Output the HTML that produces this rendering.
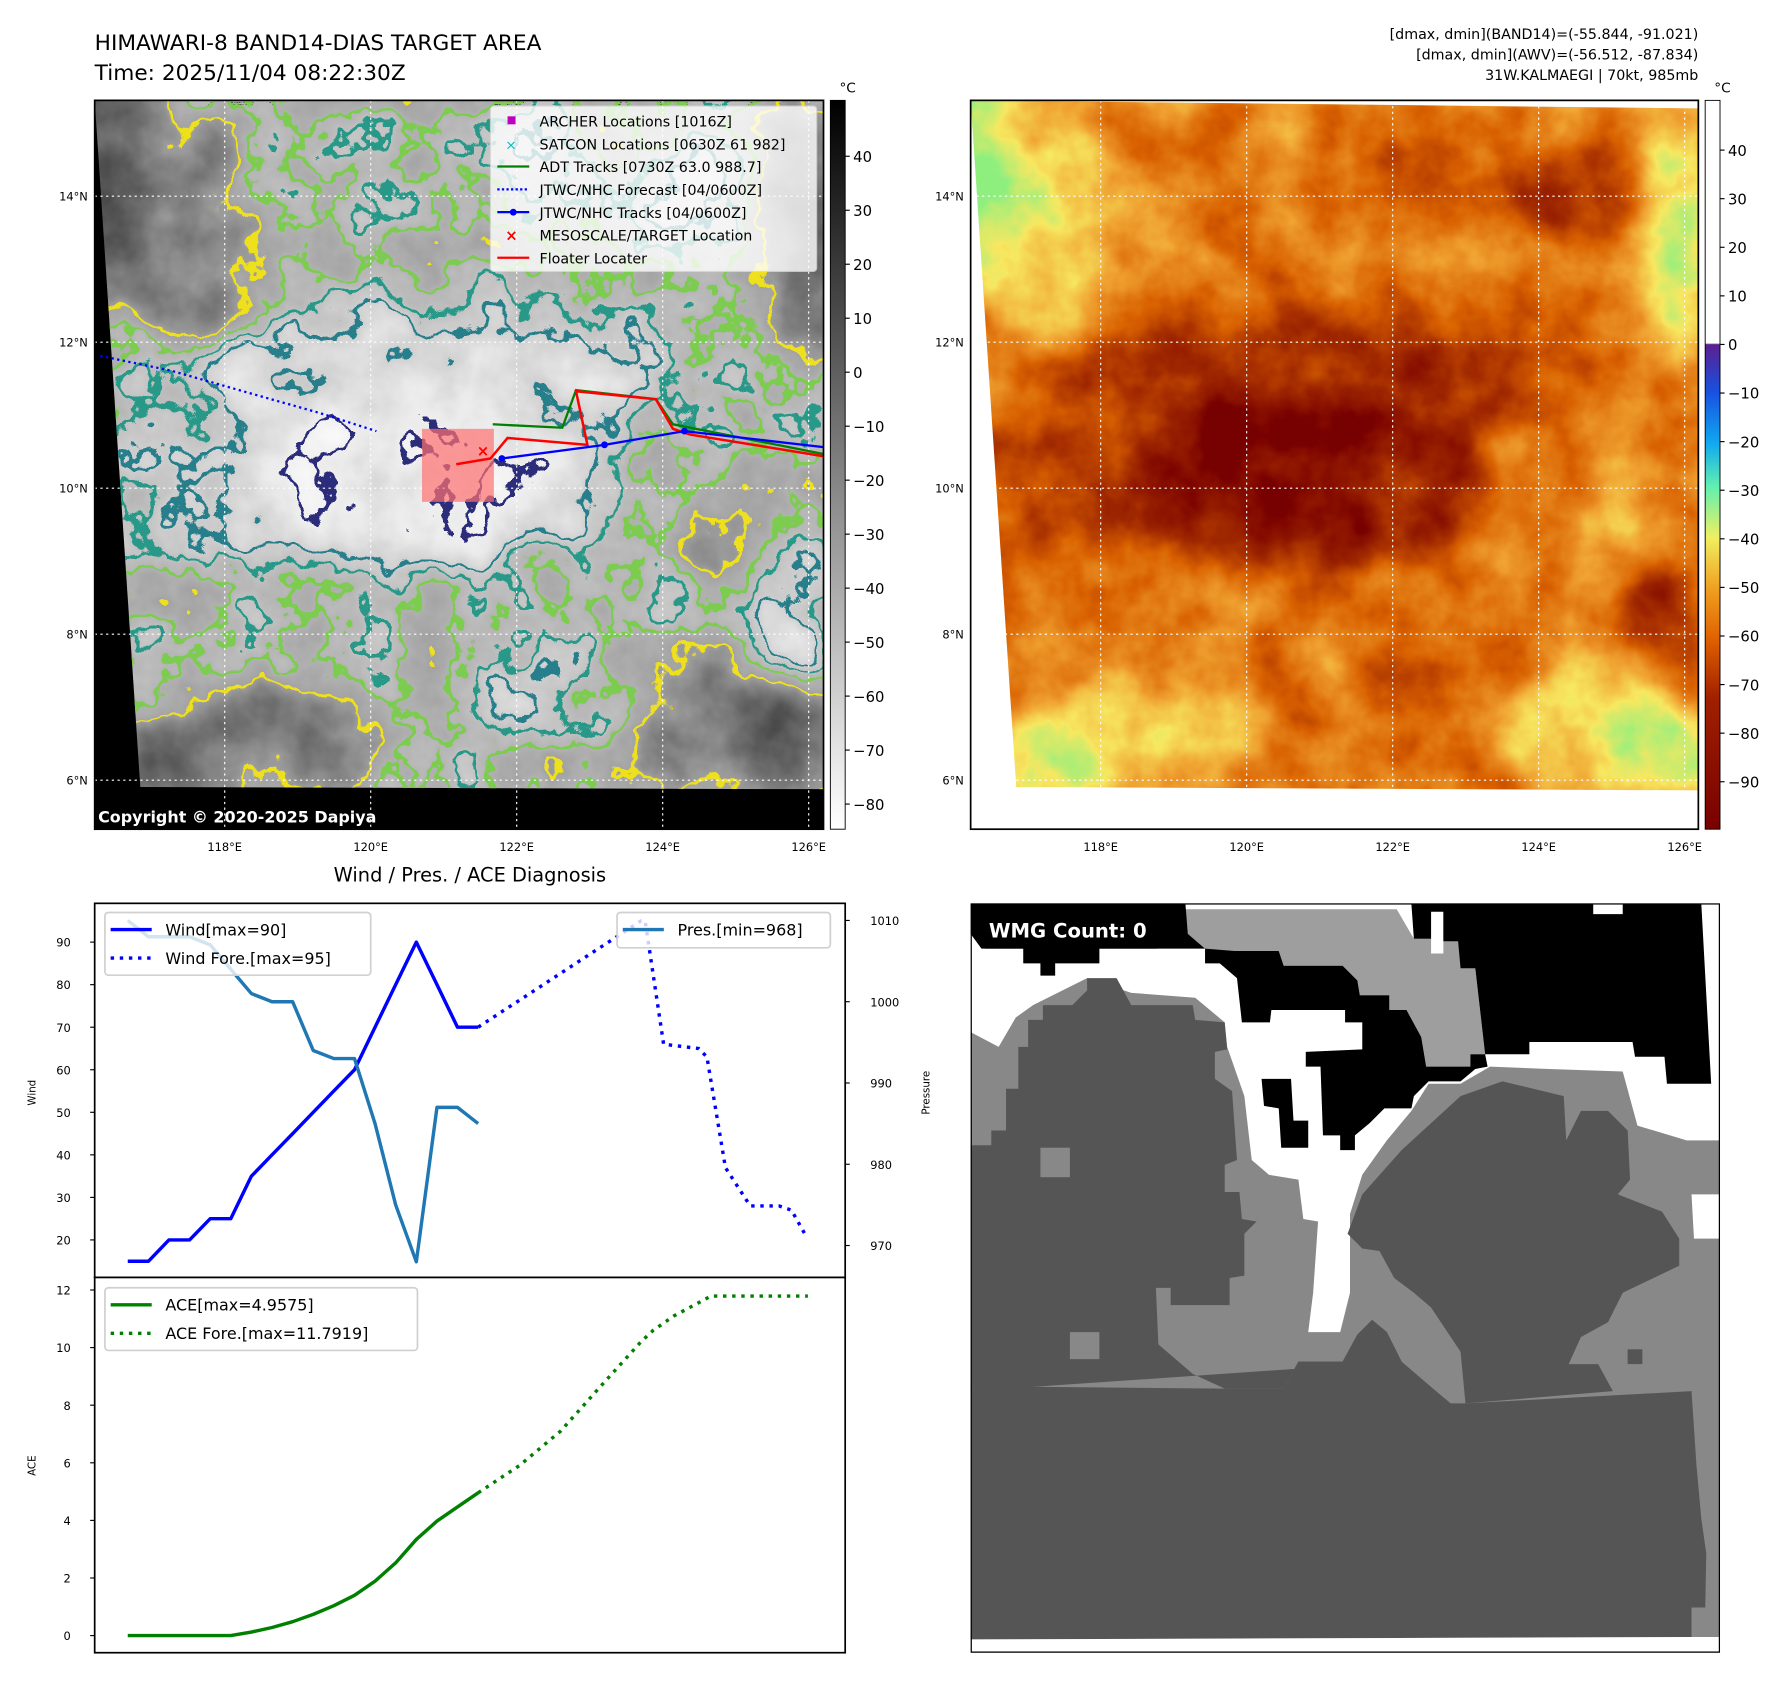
<!DOCTYPE html>
<html><head><meta charset="utf-8">
<style>
html,body{margin:0;padding:0;background:#fff;}
svg{display:block;font-family:"DejaVu Sans","Liberation Sans",sans-serif;}
</style></head>
<body>
<svg id="root" width="1788" height="1690" viewBox="0 0 1567.6 1481.7" xmlns="http://www.w3.org/2000/svg">
<defs>
  <g id="struct">
    <rect x="60" y="70" width="690" height="680" fill="rgb(150,150,150)"/>
    <ellipse cx="380" cy="330" rx="220" ry="60" fill="rgb(205,205,205)"/>
    <ellipse cx="200" cy="420" rx="130" ry="55" fill="rgb(195,195,195)"/>
    <ellipse cx="370" cy="420" rx="150" ry="75" fill="rgb(240,240,240)"/>
    <ellipse cx="480" cy="420" rx="50" ry="60" fill="rgb(225,225,225)"/>
    <ellipse cx="612" cy="170" rx="50" ry="40" fill="rgb(215,215,215)"/>
    <ellipse cx="472" cy="130" rx="40" ry="30" fill="rgb(204,204,204)"/>
    <ellipse cx="692" cy="550" rx="30" ry="70" fill="rgb(215,215,215)"/>
    <ellipse cx="462" cy="600" rx="40" ry="40" fill="rgb(190,190,190)"/>
    <ellipse cx="160" cy="200" rx="70" ry="100" fill="rgb(95,95,95)"/>
    <ellipse cx="95" cy="160" rx="35" ry="100" fill="rgb(40,40,40)"/>
    <ellipse cx="230" cy="650" rx="110" ry="50" fill="rgb(90,90,90)"/>
    <ellipse cx="150" cy="670" rx="50" ry="40" fill="rgb(50,50,50)"/>
    <ellipse cx="640" cy="640" rx="90" ry="60" fill="rgb(85,85,85)"/>
    <ellipse cx="690" cy="660" rx="50" ry="40" fill="rgb(50,50,50)"/>
    <ellipse cx="700" cy="200" rx="35" ry="110" fill="rgb(60,60,60)"/>
    <ellipse cx="640" cy="460" rx="40" ry="60" fill="rgb(115,115,115)"/>
  </g>
  <filter id="fL" filterUnits="userSpaceOnUse" x="83" y="88" width="640" height="640" color-interpolation-filters="sRGB">
    <feGaussianBlur in="SourceGraphic" stdDeviation="18" result="b"/>
    <feTurbulence type="fractalNoise" baseFrequency="0.02" numOctaves="4" seed="3" result="n"/>
    <feColorMatrix in="n" type="matrix" values="1 0 0 0 0 1 0 0 0 0 1 0 0 0 0 0 0 0 0 1" result="ng"/>
    <feComposite in="b" in2="ng" operator="arithmetic" k1="0" k2="0.9" k3="0.35" k4="-0.2" result="m"/>
    <feComponentTransfer in="m">
      <feFuncR type="table" tableValues="0.2 0.42 0.64 0.78 0.92 1"/>
      <feFuncG type="table" tableValues="0.2 0.42 0.64 0.78 0.92 1"/>
      <feFuncB type="table" tableValues="0.2 0.42 0.64 0.78 0.92 1"/>
      <feFuncA type="linear" slope="0" intercept="1"/>
    </feComponentTransfer>
  </filter>
  <filter id="fC" filterUnits="userSpaceOnUse" x="83" y="88" width="640" height="640" color-interpolation-filters="sRGB">
    <feGaussianBlur in="SourceGraphic" stdDeviation="18" result="b"/>
    <feTurbulence type="fractalNoise" baseFrequency="0.02" numOctaves="4" seed="3" result="n"/>
    <feColorMatrix in="n" type="matrix" values="1 0 0 0 0 1 0 0 0 0 1 0 0 0 0 0 0 0 0 1" result="ng"/>
    <feComposite in="b" in2="ng" operator="arithmetic" k1="0" k2="0.9" k3="0.35" k4="-0.2" result="m"/>
    <feColorMatrix in="m" type="matrix" values="1 0 0 0 0 1 0 0 0 0 1 0 0 0 0 1 0 0 0 0" result="mm"/>
    <feComponentTransfer in="mm">
      <feFuncR type="discrete" tableValues="0 0 0 0 0 0 0 0 0 0 0 0 0 0 0 0 0 0 0 0.94 0 0 0 0 0.49 0 0 0 0.16 0 0 0 0.16 0 0 0 0 0 0 0 0 0 0.17 0 0 0 0 0 0 0"/>
      <feFuncG type="discrete" tableValues="0 0 0 0 0 0 0 0 0 0 0 0 0 0 0 0 0 0 0 0.88 0 0 0 0 0.8 0 0 0 0.6 0 0 0 0.5 0 0 0 0 0 0 0 0 0 0.18 0 0 0 0 0 0 0"/>
      <feFuncB type="discrete" tableValues="0 0 0 0 0 0 0 0 0 0 0 0 0 0 0 0 0 0 0 0.12 0 0 0 0 0.31 0 0 0 0.54 0 0 0 0.55 0 0 0 0 0 0 0 0 0 0.48 0 0 0 0 0 0 0"/>
      <feFuncA type="discrete" tableValues="0 0 0 0 0 0 0 0 0 0 0 0 0 0 0 0 0 0 0 1 0 0 0 0 1 0 0 0 1 0 0 0 1 0 0 0 0 0 0 0 0 0 1 0 0 0 0 0 0 0"/>
    </feComponentTransfer>
  </filter>
  <filter id="fR" filterUnits="userSpaceOnUse" x="851" y="88" width="640" height="640" color-interpolation-filters="sRGB">
    <feGaussianBlur in="SourceGraphic" stdDeviation="18" result="b"/>
    <feTurbulence type="fractalNoise" baseFrequency="0.02" numOctaves="4" seed="3" result="n"/>
    <feColorMatrix in="n" type="matrix" values="1 0 0 0 0 1 0 0 0 0 1 0 0 0 0 0 0 0 0 1" result="ng"/>
    <feComposite in="b" in2="ng" operator="arithmetic" k1="0" k2="1.15" k3="0.45" k4="-0.37" result="m"/>
    <feComponentTransfer in="m">
      <feFuncR type="table" tableValues="0.56 0.97 0.94 0.85 0.63 0.47"/>
      <feFuncG type="table" tableValues="0.94 0.91 0.63 0.38 0.16 0"/>
      <feFuncB type="table" tableValues="0.5 0.38 0.19 0 0 0"/>
      <feFuncA type="linear" slope="0" intercept="1"/>
    </feComponentTransfer>
  </filter>
  <clipPath id="clipL"><polygon points="83,88 722,88 722,692 123,690"/></clipPath>
  <clipPath id="clipR"><polygon points="851,88 1489,95 1489,693 891,690"/></clipPath>
  <linearGradient id="gbarL" x1="0" y1="0" x2="0" y2="1">
    <stop offset="0" stop-color="#000"/><stop offset="1" stop-color="#fff"/>
  </linearGradient>
  <linearGradient id="gbarR" x1="0" y1="0" x2="0" y2="1">
    <stop offset="0" stop-color="#fff"/>
    <stop offset="0.333" stop-color="#ffffff"/>
    <stop offset="0.335" stop-color="#5a2090"/>
    <stop offset="0.40" stop-color="#1850e0"/>
    <stop offset="0.47" stop-color="#10a8f0"/>
    <stop offset="0.53" stop-color="#60f0b0"/>
    <stop offset="0.60" stop-color="#f0f060"/>
    <stop offset="0.67" stop-color="#f0a020"/>
    <stop offset="0.74" stop-color="#e06000"/>
    <stop offset="0.82" stop-color="#a02000"/>
    <stop offset="1" stop-color="#780000"/>
  </linearGradient>
</defs>

<!-- Titles -->
<text x="83" y="44" font-size="19">HIMAWARI-8 BAND14-DIAS TARGET AREA</text>
<text x="83" y="70" font-size="19">Time: 2025/11/04 08:22:30Z</text>
<g font-size="12.5" text-anchor="end">
  <text x="1489" y="34">[dmax, dmin](BAND14)=(-55.844, -91.021)</text>
  <text x="1489" y="52">[dmax, dmin](AWV)=(-56.512, -87.834)</text>
  <text x="1489" y="70">31W.KALMAEGI | 70kt, 985mb</text>
</g>

<!-- Left map -->
<g>
  <rect x="83" y="88" width="639" height="639" fill="#000"/>
  <g clip-path="url(#clipL)"><g filter="url(#fL)"><use href="#struct"/></g></g>
  <g clip-path="url(#clipL)"><g filter="url(#fC)"><use href="#struct"/></g></g>
  <g stroke="#fff" stroke-width="1" stroke-dasharray="2,3" fill="none">
    <line x1="197" y1="88" x2="197" y2="727"/><line x1="325" y1="88" x2="325" y2="727"/><line x1="453" y1="88" x2="453" y2="727"/><line x1="581" y1="88" x2="581" y2="727"/><line x1="709" y1="88" x2="709" y2="727"/>
    <line x1="83" y1="172" x2="722" y2="172"/><line x1="83" y1="300" x2="722" y2="300"/><line x1="83" y1="428" x2="722" y2="428"/><line x1="83" y1="556" x2="722" y2="556"/><line x1="83" y1="684" x2="722" y2="684"/>
  </g>
  <rect x="370" y="376" width="63" height="64" fill="#ff7070" opacity="0.7"/>
  <polyline points="88,312 150,325 220,345 280,362 330,378" fill="none" stroke="#0000ff" stroke-width="2" stroke-dasharray="2,3"/>
  <polyline points="432,372 493,375 505,342 575,350 590,372 722,398" fill="none" stroke="#008000" stroke-width="2"/>
  <polyline points="400,407 430,402 445,384 515,390 505,343 575,350 590,376 605,381 722,400" fill="none" stroke="#ff0000" stroke-width="2.2"/>
  <g>
    <polyline points="440,402 530,390 600,378 722,392" fill="none" stroke="#0000ff" stroke-width="2"/>
    <circle cx="440" cy="402" r="3" fill="#00f"/><circle cx="530" cy="390" r="3" fill="#00f"/><circle cx="600" cy="378" r="3" fill="#00f"/>
  </g>
  <text x="418" y="400" fill="#f00" font-size="13" font-weight="bold">×</text>
  <g font-size="12.5">
    <rect x="430" y="93" width="286" height="145" fill="#fff" opacity="0.8" stroke="#ddd" rx="3"/>
    <rect x="445" y="102" width="7" height="7" fill="#c000c0"/><text x="473" y="111">ARCHER Locations [1016Z]</text>
    <text x="443" y="131" fill="#10c0c0" font-size="12">×</text><text x="473" y="131">SATCON Locations [0630Z 61 982]</text>
    <line x1="436" y1="146" x2="464" y2="146" stroke="#008000" stroke-width="2"/><text x="473" y="151">ADT Tracks [0730Z 63.0 988.7]</text>
    <line x1="436" y1="166" x2="464" y2="166" stroke="#00f" stroke-width="2" stroke-dasharray="2,2"/><text x="473" y="171">JTWC/NHC Forecast [04/0600Z]</text>
    <line x1="436" y1="186" x2="464" y2="186" stroke="#00f" stroke-width="2"/><circle cx="450" cy="186" r="3" fill="#00f"/><text x="473" y="191">JTWC/NHC Tracks [04/0600Z]</text>
    <text x="443" y="211" fill="#f00" font-size="13" font-weight="bold">×</text><text x="473" y="211">MESOSCALE/TARGET Location</text>
    <line x1="436" y1="226" x2="464" y2="226" stroke="#f00" stroke-width="2"/><text x="473" y="231">Floater Locater</text>
  </g>
  <text x="86" y="721" fill="#fff" font-size="14" font-weight="bold">Copyright © 2020-2025 Dapiya</text>
  <rect x="83" y="88" width="639" height="639" fill="none" stroke="#000" stroke-width="1.5"/>
</g>
<g font-size="10" text-anchor="end">
  <text x="77" y="176">14°N</text><text x="77" y="304">12°N</text><text x="77" y="432">10°N</text><text x="77" y="560">8°N</text><text x="77" y="688">6°N</text>
</g>
<g font-size="10" text-anchor="middle">
  <text x="197" y="746">118°E</text><text x="325" y="746">120°E</text><text x="453" y="746">122°E</text><text x="581" y="746">124°E</text><text x="709" y="746">126°E</text>
</g>
<g>
  <rect x="728" y="88" width="13" height="639" fill="url(#gbarL)" stroke="#000" stroke-width="0.8"/>
  <text x="736" y="81" font-size="12">°C</text>
  <g font-size="13" id="cbL"></g>
</g>

<!-- Right map -->
<g>
  <g clip-path="url(#clipR)"><g filter="url(#fR)"><use href="#struct" transform="translate(768,0)"/></g></g>
  <g stroke="#fff" stroke-width="1" stroke-dasharray="2,3" fill="none">
    <line x1="965" y1="88" x2="965" y2="692"/><line x1="1093" y1="88" x2="1093" y2="692"/><line x1="1221" y1="88" x2="1221" y2="692"/><line x1="1349" y1="88" x2="1349" y2="692"/><line x1="1477" y1="88" x2="1477" y2="692"/>
    <line x1="851" y1="172" x2="1489" y2="172"/><line x1="851" y1="300" x2="1489" y2="300"/><line x1="851" y1="428" x2="1489" y2="428"/><line x1="851" y1="556" x2="1489" y2="556"/><line x1="851" y1="684" x2="1489" y2="684"/>
  </g>
  <rect x="851" y="88" width="638" height="639" fill="none" stroke="#000" stroke-width="1.5"/>
</g>
<g font-size="10" text-anchor="end">
  <text x="845" y="176">14°N</text><text x="845" y="304">12°N</text><text x="845" y="432">10°N</text><text x="845" y="560">8°N</text><text x="845" y="688">6°N</text>
</g>
<g font-size="10" text-anchor="middle">
  <text x="965" y="746">118°E</text><text x="1093" y="746">120°E</text><text x="1221" y="746">122°E</text><text x="1349" y="746">124°E</text><text x="1477" y="746">126°E</text>
</g>
<g>
  <rect x="1495" y="88" width="13" height="639" fill="url(#gbarR)" stroke="#000" stroke-width="0.8"/>
  <text x="1503" y="81" font-size="12">°C</text>
  <g font-size="13" id="cbR"></g>
</g>

<!-- Diagnosis chart -->
<text x="412" y="773" font-size="17" text-anchor="middle">Wind / Pres. / ACE Diagnosis</text>
<g id="chart"></g>

<!-- WMG panel -->
<svg x="851" y="792" width="657" height="657" viewBox="3 8 1525 1524" preserveAspectRatio="none">
  <rect x="0" y="0" width="1540" height="1540" fill="#888"/>
  <polygon fill="#fff" points="3,8 1528,8 1528,490 1460,490 1360,460 1330,350 1180,345 1060,340 1000,375 935,375 900,430 850,490 800,560 775,640 775,800 755,880 690,880 700,800 710,655 680,650 670,570 610,560 575,530 560,400 525,300 520,250 460,200 330,190 240,160 130,215 95,240 60,300 3,270"/>
  <polygon fill="#fff" points="1470,600 1528,600 1528,690 1475,690"/>
  <polygon fill="#9e9e9e" points="440,20 870,20 905,80 940,80 940,110 965,110 965,25 995,25 1000,85 1030,85 1030,140 1050,315 1020,315 1020,340 930,340 920,280 890,225 855,225 855,195 795,195 790,165 760,135 640,135 630,105 540,105 510,130 480,100 445,70"/>
  <polygon fill="#9e9e9e" points="1455,35 1490,35 1495,115 1465,115"/>
  <polygon fill="#000" points="900,10 1270,10 1270,30 1330,30 1330,10 1490,10 1510,375 1420,375 1415,320 1355,320 1350,290 1140,290 1140,315 1050,315 1030,140 1000,140 995,85 965,85 965,25 940,25 940,80 905,80"/>
  <polygon fill="#000" points="3,8 440,8 445,70 480,100 265,100 265,130 175,130 175,155 145,155 145,130 110,130 110,100 25,100 3,70"/>
  <polygon fill="#000" points="480,100 540,105 630,105 640,135 760,135 790,165 795,195 855,195 855,225 890,225 920,280 930,340 1020,340 1020,315 1050,315 1055,340 1030,345 1000,370 935,370 905,400 900,425 845,425 815,455 785,480 785,510 755,510 755,480 720,480 715,340 685,340 685,310 800,305 800,250 765,250 765,225 615,225 612,250 555,250 545,160 510,130 480,130"/>
  <polygon fill="#000" points="595,365 655,365 660,450 690,450 690,505 635,505 630,425 600,420"/>
  <polygon fill="#555" points="3,500 45,500 45,470 75,470 75,385 100,385 100,300 120,300 120,245 150,245 150,215 210,215 240,185 240,160 300,160 330,215 455,215 460,245 520,250 525,305 500,310 500,365 535,390 545,530 520,540 520,595 550,595 555,650 585,655 560,680 560,765 530,770 530,825 410,825 410,790 380,790 385,905 420,935 455,965 520,995 640,995 670,940 760,940 790,885 820,855 850,880 880,940 3,1000"/>
  <polygon fill="#555" points="770,680 800,600 880,510 1000,400 1085,370 1210,400 1215,490 1245,430 1300,430 1340,470 1345,570 1320,600 1410,635 1445,690 1445,745 1330,800 1300,860 1245,890 1220,945 1280,945 1310,1000 1010,1025 1000,920 940,830 905,800 865,770 835,715 800,710"/>
  <polygon fill="#555" points="3,990 520,995 640,995 670,940 760,940 790,885 820,855 850,880 880,940 950,1000 980,1025 1010,1025 1470,1000 1480,1150 1490,1260 1500,1330 1498,1440 1470,1440 1470,1500 3,1505"/>
  <polygon fill="#fff" points="3,1505 1470,1500 1528,1500 1528,1540 3,1540"/>
  <rect x="145" y="505" width="60" height="60" fill="#888"/><rect x="205" y="880" width="60" height="55" fill="#888"/>
  <rect x="1340" y="915" width="30" height="30" fill="#555"/>
  <rect x="25" y="30" width="365" height="70" rx="8" fill="#000"/>
  <text x="40" y="78" fill="#fff" font-size="40" font-weight="bold">WMG Count: 0</text>
  <rect x="3" y="8" width="1525" height="1524" fill="none" stroke="#000" stroke-width="5"/>
</svg>

<script>
// Chart data (time index in 6-h steps)
const obsT = [0,1,2,3,4,5,6,7,8,9,10,11,12,13,14,15,16,17];
const windObs = [15,15,20,20,25,25,35,40,45,50,55,60,70,80,90,80,70,70];
const presObs = [1010,1008,1008,1008,1007,1004,1001,1000,1000,994,993,993,985,975,968,987,987,985];
const aceObs = [0,0,0,0,0,0,0.1225,0.2825,0.485,0.735,1.0375,1.3975,1.8875,2.5275,3.3375,3.9775,4.4675,4.9575];
const windForeT = [17,24.9,25.1,26,27.7,28.1,29,29.8,30.2,31.6,32.2,32.9];
const windFore = [70,95,95,66,65,63,37,31,28,28,27,21];
const aceForeT = [17,19,21,23,24.9,25.5,26.5,28.3,33];
const aceFore = [4.9575,5.9,7.1,8.7,10.2,10.6,11.1,11.7919,11.7919];
const windTicks = [20,30,40,50,60,70,80,90];
const presTicks = [970,980,990,1000,1010];
const aceTicks = [0,2,4,6,8,10,12];
const cbLTicks = [40,30,20,10,0,-10,-20,-30,-40,-50,-60,-70,-80];
const cbRTicks = [40,30,20,10,0,-10,-20,-30,-40,-50,-60,-70,-80,-90];

const NS = 'http://www.w3.org/2000/svg';
const X = k => 112 + k * 18.07;
const YW = v => 826 + (90 - v) * 3.73;
const YP = p => 807 + (1010 - p) * 7.125;
const YA = a => 1434 - a * 25.25;
const chart = document.getElementById('chart');
function mk(tag, attrs, parent) {
  const e = document.createElementNS(NS, tag);
  for (const k in attrs) e.setAttribute(k, attrs[k]);
  (parent || chart).appendChild(e);
  return e;
}
function pts(ts, vs, fy) { return ts.map((t, i) => X(t).toFixed(1) + ',' + fy(vs[i]).toFixed(1)).join(' '); }

let f1 = mk('rect', {x:83, y:792, width:658, height:328, fill:'#fff', stroke:'#000', 'stroke-width':1.5});


let f2 = mk('rect', {x:83, y:1120, width:658, height:329, fill:'#fff', stroke:'#000', 'stroke-width':1.5});



windTicks.forEach(v => {
  mk('line', {x1:79, x2:83, y1:YW(v), y2:YW(v), stroke:'#000'});
  const t = mk('text', {x:62, y:YW(v)+4, 'font-size':10, 'text-anchor':'end'});
  t.textContent = v;
  
  
});
presTicks.forEach(v => {
  mk('line', {x1:741, x2:745, y1:YP(v), y2:YP(v), stroke:'#000'});
  const t = mk('text', {x:763, y:YP(v)+4, 'font-size':10});
  t.textContent = v;
  
  
});
aceTicks.forEach(v => {
  mk('line', {x1:79, x2:83, y1:YA(v), y2:YA(v), stroke:'#000'});
  const t = mk('text', {x:62, y:YA(v)+4, 'font-size':10, 'text-anchor':'end'});
  t.textContent = v;
  
  
});
let yl1 = mk('text', {x:31, y:958, 'font-size':9, 'text-anchor':'middle', transform:'rotate(-90 31 958)'});
yl1.textContent = 'Wind';


let yl2 = mk('text', {x:815, y:958, 'font-size':9, 'text-anchor':'middle', transform:'rotate(-90 815 958)'});
yl2.textContent = 'Pressure';


let yl3 = mk('text', {x:31, y:1285, 'font-size':9, 'text-anchor':'middle', transform:'rotate(-90 31 1285)'});
yl3.textContent = 'ACE';



let wl = mk('polyline', {points:pts(obsT, windObs, YW), fill:'none', stroke:'#0000ff', 'stroke-width':3, 'stroke-linejoin':'round'});


let wf = mk('polyline', {points:pts(windForeT, windFore, YW), fill:'none', stroke:'#0000ff', 'stroke-width':3, 'stroke-dasharray':'3,5'});


let pl = mk('polyline', {points:pts(obsT, presObs, YP), fill:'none', stroke:'#1f77b4', 'stroke-width':3, 'stroke-linejoin':'round'});


let al = mk('polyline', {points:pts(obsT, aceObs, YA), fill:'none', stroke:'#008000', 'stroke-width':3, 'stroke-linejoin':'round'});


let af = mk('polyline', {points:pts(aceForeT, aceFore, YA), fill:'none', stroke:'#008000', 'stroke-width':3, 'stroke-dasharray':'3,5'});



function legend(name, x, y, w, h, items) {
  const g = mk('g', {});
  
  
  mk('rect', {x:x, y:y, width:w, height:h, rx:3, fill:'#fff', 'fill-opacity':0.8, stroke:'#d0d0d0', 'stroke-width':1.5}, g);
  items.forEach((it, i) => {
    const yy = y + 15 + i * 25;
    const ln = mk('line', {x1:x+5, x2:x+41, y1:yy, y2:yy, stroke:it.c, 'stroke-width':3}, g);
    if (it.d) ln.setAttribute('stroke-dasharray', '3,5');
    const t = mk('text', {x:x+53, y:yy+5, 'font-size':14}, g);
    t.textContent = it.t;
  });
}
legend('wind-legend', 92, 800, 233, 55, [{c:'#0000ff', t:'Wind[max=90]'}, {c:'#0000ff', d:1, t:'Wind Fore.[max=95]'}]);
legend('pressure-legend', 541, 800, 187, 31, [{c:'#1f77b4', t:'Pres.[min=968]'}]);
legend('ace-legend', 92, 1129, 274, 55, [{c:'#008000', t:'ACE[max=4.9575]'}, {c:'#008000', d:1, t:'ACE Fore.[max=11.7919]'}]);

const cbL = document.getElementById('cbL');
cbLTicks.forEach(v => {
  const y = 137 + (40 - v) * 4.733;
  mk('line', {x1:741, x2:745, y1:y, y2:y, stroke:'#000'}, cbL);
  const t = mk('text', {x:748, y:y+5}, cbL);
  t.textContent = v < 0 ? '\u2212' + (-v) : v;
  
  
});
const cbR = document.getElementById('cbR');
cbRTicks.forEach(v => {
  const y = 302 - v * 4.26;
  mk('line', {x1:1508, x2:1512, y1:y, y2:y, stroke:'#000'}, cbR);
  const t = mk('text', {x:1515, y:y+5}, cbR);
  t.textContent = v < 0 ? '\u2212' + (-v) : v;
  
  
});
</script>
</svg>
</body></html>
